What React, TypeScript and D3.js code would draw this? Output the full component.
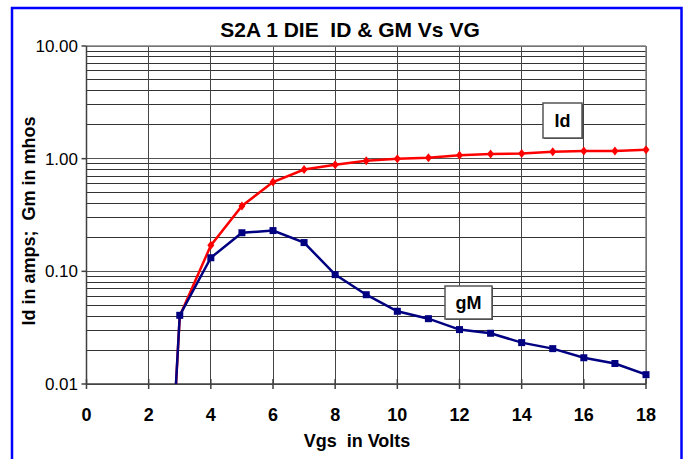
import React from "react";
import * as d3 from "d3";

const vgs = [2.5, 3, 4, 5, 6, 7, 8, 9, 10, 11, 12, 13, 14, 15, 16, 17, 18];
const idAmps = [0.000125, 0.04, 0.17, 0.38, 0.62, 0.8, 0.885, 0.96, 1.0, 1.02, 1.07, 1.1, 1.11, 1.15, 1.17, 1.17, 1.2];
const gmMhos = [0.000125, 0.0407, 0.132, 0.22, 0.23, 0.18, 0.0935, 0.062, 0.0442, 0.038, 0.0304, 0.0282, 0.0233, 0.0206, 0.0171, 0.0152, 0.0121];
const xTicks = [0, 2, 4, 6, 8, 10, 12, 14, 16, 18];
const yTicks = [0.01, 0.1, 1, 10];
const yTickLabels = ["0.01", "0.10", "1.00", "10.00"];

const W = 688;
const H = 459;
const L = 86.5, R = 646, T = 46, B = 384;

export default function App() {
  const x = d3.scaleLinear().domain([0, 18]).range([L, R]);
  const y = d3.scaleLog().domain([0.01, 10]).range([B, T]);

  const minor: number[] = [];
  for (const dec of [0.01, 0.1, 1]) {
    for (let k = 2; k <= 9; k++) minor.push(dec * k);
  }

  const line = d3
    .line<number>()
    .x((_, i) => x(vgs[i]))
    .y((d) => y(d));

  const font = "'Liberation Sans', Arial, sans-serif";
  const pts = (arr: number[]) =>
    arr.map((v, i) => ({ xv: vgs[i], v })).filter((p) => p.v >= 0.01);

  return (
    <svg
      width={W}
      height={H}
      style={{ position: "absolute", left: 0, top: 0, background: "#fff" }}
      fontFamily={font}
    >
      <defs>
        <clipPath id="plot">
          <rect x={L} y={T} width={R - L} height={B - T} />
        </clipPath>
      </defs>
      <rect x={0} y={0} width={W} height={H} fill="#fff" />
      <rect x={12} y={8} width={669.5} height={470} fill="none" stroke="#0000ff" strokeWidth={2.5} />

      <text x={350} y={36.5} textAnchor="middle" fontSize={21} fontWeight="bold">
        S2A 1 DIE&#160;&#160;ID &amp; GM Vs VG
      </text>

      {/* horizontal gridlines */}
      {minor.map((m, i) => (
        <line key={"m" + i} x1={L} x2={R} y1={y(m)} y2={y(m)} stroke="#333" strokeWidth={1} shapeRendering="crispEdges" />
      ))}
      {yTicks.map((t, i) => (
        <line key={"M" + i} x1={L} x2={R} y1={y(t)} y2={y(t)} stroke="#555" strokeWidth={1} shapeRendering="crispEdges" />
      ))}
      {/* vertical gridlines */}
      {xTicks.map((t, i) => (
        <line key={"v" + i} x1={x(t)} x2={x(t)} y1={T} y2={B} stroke="#444" strokeWidth={1} shapeRendering="crispEdges" />
      ))}
      {/* plot border top/right */}
      <line x1={L} x2={R} y1={T} y2={T} stroke="#808080" strokeWidth={1.5} />
      <line x1={R} x2={R} y1={T} y2={B} stroke="#808080" strokeWidth={1.5} />

      {/* axes */}
      <line x1={L} x2={L} y1={T} y2={B} stroke="#404040" strokeWidth={1.5} />
      <line x1={L} x2={R} y1={B} y2={B} stroke="#404040" strokeWidth={1.5} />
      {yTicks.map((t, i) => (
        <g key={"yt" + i}>
          <line x1={L - 5} x2={L} y1={y(t)} y2={y(t)} stroke="#404040" strokeWidth={1.5} />
          <text x={78} y={y(t) + 6} textAnchor="end" fontSize={17}>
            {yTickLabels[i]}
          </text>
        </g>
      ))}
      {xTicks.map((t, i) => (
        <g key={"xt" + i}>
          <line x1={x(t)} x2={x(t)} y1={B - 5} y2={B + 5} stroke="#404040" strokeWidth={1.5} />
          <text x={x(t)} y={421} textAnchor="middle" fontSize={18} fontWeight="bold">
            {t}
          </text>
        </g>
      ))}

      <text x={357} y={446.5} textAnchor="middle" fontSize={18} fontWeight="bold">
        Vgs&#160;&#160;in Volts
      </text>
      <text
        transform={`translate(35,221) rotate(-90)`}
        textAnchor="middle"
        fontSize={18}
        fontWeight="bold"
      >
        Id in amps;&#160;&#160;Gm in mhos
      </text>

      {/* series: Id first, gM on top */}
      <g clipPath="url(#plot)">
        <path d={line(idAmps) || ""} fill="none" stroke="#ff0000" strokeWidth={2.5} />
      </g>
      {pts(idAmps).map((p, i) => {
        const cx = x(p.xv), cy = y(p.v);
        return (
          <path
            key={"d" + i}
            d={`M${cx},${cy - 4.5}L${cx + 3.5},${cy}L${cx},${cy + 4.5}L${cx - 3.5},${cy}Z`}
            fill="#ff0000"
          />
        );
      })}
      <g clipPath="url(#plot)">
        <path d={line(gmMhos) || ""} fill="none" stroke="#000080" strokeWidth={2.5} />
      </g>
      {pts(gmMhos).map((p, i) => (
        <rect key={"s" + i} x={x(p.xv) - 3.5} y={y(p.v) - 3.5} width={7} height={7} fill="#000080" />
      ))}

      {/* labels */}
      <rect x={544} y={104} width={39} height={35} fill="#404040" />
      <rect x={543} y={103} width={39} height={35} fill="#fff" stroke="#555" strokeWidth={1.5} />
      <text x={562.5} y={127} textAnchor="middle" fontSize={18} fontWeight="bold">
        Id
      </text>
      <rect x={446} y={287} width={47} height={33} fill="#404040" />
      <rect x={445} y={286} width={47} height={33} fill="#fff" stroke="#555" strokeWidth={1.5} />
      <text x={468.5} y={309} textAnchor="middle" fontSize={18} fontWeight="bold">
        gM
      </text>
    </svg>
  );
}
